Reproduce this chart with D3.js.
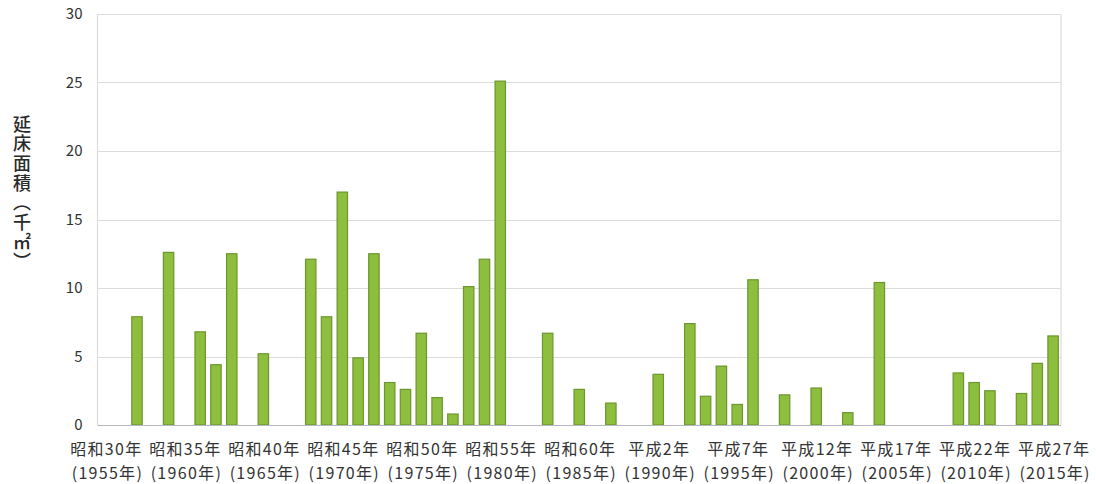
<!DOCTYPE html>
<html lang="ja">
<head>
<meta charset="utf-8">
<script src="https://cdn.jsdelivr.net/npm/d3@7/dist/d3.min.js"></script>
<style>
  html, body { margin: 0; padding: 0; background: #fff; }
  svg { display: block; font-family: "Noto Sans CJK JP", "Noto Sans", sans-serif; }
</style>
</head>
<body>
<svg id="chart" width="1096" height="484"></svg>
<script>
// Every year on the category axis
const years = [
  1955, 1956, 1957, 1958, 1959, 1960, 1961, 1962, 1963, 1964,
  1965, 1966, 1967, 1968, 1969, 1970, 1971, 1972, 1973, 1974,
  1975, 1976, 1977, 1978, 1979, 1980, 1981, 1982, 1983, 1984,
  1985, 1986, 1987, 1988, 1989, 1990, 1991, 1992, 1993, 1994,
  1995, 1996, 1997, 1998, 1999, 2000, 2001, 2002, 2003, 2004,
  2005, 2006, 2007, 2008, 2009, 2010, 2011, 2012, 2013, 2014,
  2015
];

// Years with construction, and floor area in thousand m²
const barYears = [
  1957, 1959, 1961, 1962, 1963, 1965, 1968, 1969, 1970, 1971,
  1972, 1973, 1974, 1975, 1976, 1977, 1978, 1979, 1980, 1983,
  1985, 1987, 1990, 1992, 1993, 1994, 1995, 1996, 1998, 2000,
  2002, 2004, 2009, 2010, 2011, 2013, 2014, 2015
];
const barValues = [
  7.9, 12.6, 6.8, 4.4, 12.5, 5.2, 12.1, 7.9, 17.0, 4.9,
  12.5, 3.1, 2.6, 6.7, 2.0, 0.8, 10.1, 12.1, 25.1, 6.7,
  2.6, 1.6, 3.7, 7.4, 2.1, 4.3, 1.5, 10.6, 2.2, 2.7,
  0.9, 10.4, 3.8, 3.1, 2.5, 2.3, 4.5, 6.5
];

// Labelled ticks: Japanese era year over Western year
const tickYears = [1955, 1960, 1965, 1970, 1975, 1980, 1985, 1990, 1995, 2000, 2005, 2010, 2015];
const tickEra = [
  "昭和30年", "昭和35年", "昭和40年", "昭和45年", "昭和50年", "昭和55年", "昭和60年",
  "平成2年", "平成7年", "平成12年", "平成17年", "平成22年", "平成27年"
];
const tickWestern = [
  "(1955年)", "(1960年)", "(1965年)", "(1970年)", "(1975年)", "(1980年)", "(1985年)",
  "(1990年)", "(1995年)", "(2000年)", "(2005年)", "(2010年)", "(2015年)"
];
const yTicks = [0, 5, 10, 15, 20, 25, 30];
const yTitle = "延床面積（千㎡）";

const svg = d3.select("#chart");
const plot = { left: 97.5, right: 1061, top: 14, bottom: 425 };
const textColor = "#333";

const x = d3.scaleBand()
  .domain(years)
  .range([plot.left, plot.right])
  .paddingInner(0.34)
  .paddingOuter(0.17);

const y = d3.scaleLinear().domain([0, 30]).range([plot.bottom, plot.top]);

// Horizontal gridlines
svg.append("g")
  .selectAll("line")
  .data(yTicks)
  .join("line")
  .attr("x1", plot.left)
  .attr("x2", plot.right)
  .attr("y1", d => Math.round(y(d)) + 0.5)
  .attr("y2", d => Math.round(y(d)) + 0.5)
  .attr("stroke", "#dcdcdc")
  .attr("stroke-width", 1.2);

// Plot frame sides
svg.append("g")
  .selectAll("line")
  .data([plot.left, plot.right])
  .join("line")
  .attr("x1", d => d)
  .attr("x2", d => d)
  .attr("y1", plot.top)
  .attr("y2", plot.bottom)
  .attr("stroke", "#dcdcdc")
  .attr("stroke-width", 1.2);

// Bars
const bars = barYears.map((yr, i) => ({ year: yr, value: barValues[i] }));
svg.append("g")
  .selectAll("rect")
  .data(bars)
  .join("rect")
  .attr("x", d => x(d.year))
  .attr("width", x.bandwidth())
  .attr("y", d => y(d.value))
  .attr("height", d => y(0) - y(d.value))
  .attr("fill", "#8dbe3e")
  .attr("stroke", "#6c962f")
  .attr("stroke-width", 1.2);

// Baseline
svg.append("line")
  .attr("x1", plot.left)
  .attr("x2", plot.right)
  .attr("y1", y(0) + 0.5)
  .attr("y2", y(0) + 0.5)
  .attr("stroke", "#b8b8c4")
  .attr("stroke-width", 1.2);

// Y axis labels
const yAxis = d3.axisLeft(y).tickValues(yTicks).tickSize(0).tickPadding(0);
svg.append("g")
  .attr("transform", `translate(${plot.left - 15},0)`)
  .call(yAxis)
  .call(g => g.select(".domain").remove())
  .call(g => g.selectAll("text")
    .style("font-size", "15px")
    .style("font-family", "'Noto Sans CJK JP', sans-serif")
    .attr("fill", textColor));

// X axis: two-line labels every five years
const xAxis = d3.axisBottom(x).tickValues(tickYears).tickSize(0).tickFormat(() => "");
const xg = svg.append("g")
  .attr("transform", `translate(0,${plot.bottom})`)
  .call(xAxis)
  .call(g => g.select(".domain").remove());

xg.selectAll(".tick").each(function (d) {
  const i = tickYears.indexOf(d);
  const t = d3.select(this).select("text")
    .attr("y", 0)
    .attr("dy", null)
    .attr("fill", textColor)
    .attr("text-anchor", "middle")
    .style("font-size", "16px")
    .style("letter-spacing", "1.3px")
    .style("font-family", "'Noto Sans CJK JP', sans-serif");
  t.append("tspan").attr("x", 1).attr("y", 30).text(tickEra[i]);
  t.append("tspan").attr("x", 2).attr("y", 54).text(tickWestern[i]);
});

// Y axis title, set vertically
svg.append("text")
  .attr("x", 22)
  .attr("y", 115)
  .attr("fill", "#2a2a2a")
  .style("font-size", "18px")
  .style("font-weight", "500")
  .style("letter-spacing", "1.6px")
  .style("writing-mode", "vertical-rl")
  .style("text-orientation", "upright")
  .text(yTitle);
</script>
</body>
</html>
